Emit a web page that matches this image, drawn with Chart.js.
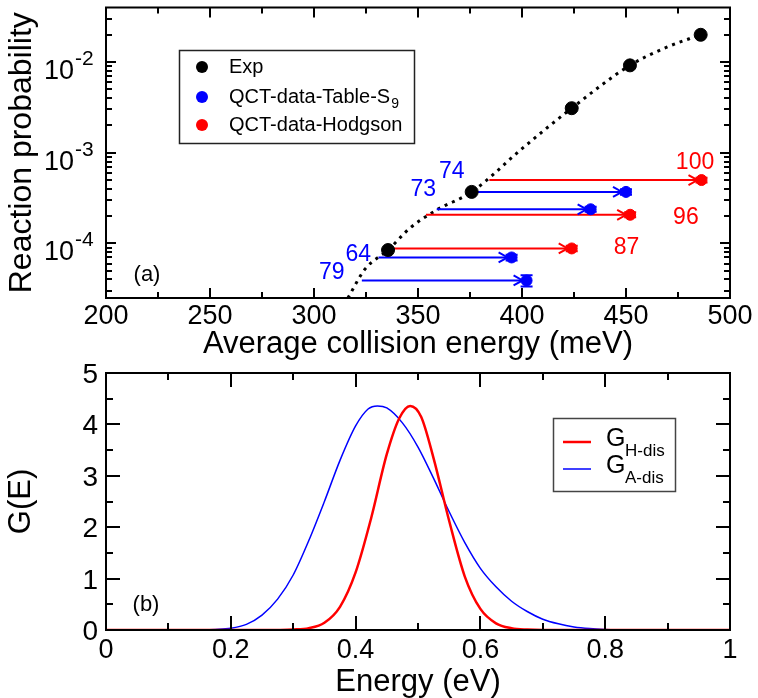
<!DOCTYPE html>
<html>
<head>
<meta charset="utf-8">
<script src="https://cdn.jsdelivr.net/npm/chart.js@4.4.0/dist/chart.umd.min.js"></script>
<style>
  body { margin: 0; background: #fff; }
  canvas { position: absolute; left: 0; }
  #chartA { top: 0; }
  #chartB { top: 362px; }
</style>
</head>
<body>
<canvas id="chartA" width="758" height="362"></canvas>
<canvas id="chartB" width="758" height="336"></canvas>
<script>
const FONT = '"Liberation Sans", Arial, Helvetica, sans-serif';

// ---- panel (a): reaction probability ----
const expEnergy = [335.6, 375.8, 423.9, 451.9, 485.9];
const expProb = [8.45e-5, 3.7e-4, 3.1e-3, 9.2e-3, 2.0e-2];

// dotted fit through the experiment
const fitEnergy = [316.3, 324.5, 335.6, 346.2, 359, 375.8, 400.6, 423.9, 451.9, 469.6, 485.9];
const fitProb = [2.5e-5, 5.2e-5, 8.45e-5, 1.48e-4, 2.34e-4, 3.7e-4, 1.14e-3, 3.1e-3, 9.2e-3, 1.46e-2, 2.0e-2];

// QCT data Table S9 (blue), arrows start at s9From
const s9Energy = [450, 433, 395, 402.2];
const s9Prob = [3.7e-4, 2.38e-4, 7.0e-5, 3.9e-5];
const s9Err = [0.25e-4, 0.15e-4, 0.5e-5, 0.55e-5];
const s9From = [375.8, 359, 331, 323];
const s9Labels = ['74', '73', '64', '79'];
const s9LabelX = [366.2, 352.5, 321.3, 308.5];
const s9LabelY = [6.11e-4, 3.94e-4, 7.59e-5, 4.81e-5];

// QCT data Hodgson (red)
const hodEnergy = [486.3, 452, 423.9];
const hodProb = [5.0e-4, 2.07e-4, 8.8e-5];
const hodErr = [0.3e-4, 0.13e-4, 0.6e-5];
const hodFrom = [384.3, 353.8, 335.6];
const hodLabels = ['100', '96', '87'];
const hodLabelX = [483.2, 478.8, 450.3];
const hodLabelY = [7.85e-4, 1.9e-4, 8.98e-5];

const aXMajor = [200, 250, 300, 350, 400, 450, 500];
const aXMinor = [225, 275, 325, 375, 425, 475];
const aYMajor = [1e-4, 1e-3, 1e-2];
const aYMinor = [3e-5, 4e-5, 5e-5, 6e-5, 7e-5, 8e-5, 9e-5,
                 2e-4, 3e-4, 4e-4, 5e-4, 6e-4, 7e-4, 8e-4, 9e-4,
                 2e-3, 3e-3, 4e-3, 5e-3, 6e-3, 7e-3, 8e-3, 9e-3,
                 2e-2, 3e-2];
const aYLabelExp = ['-4', '-3', '-2'];

// ---- panel (b): G(E) ----
const hEnergy = [0, 0.25, 0.3, 0.325, 0.35, 0.375, 0.4, 0.425, 0.45, 0.47, 0.4875, 0.505,
                 0.525, 0.55, 0.575, 0.6, 0.625, 0.65, 0.675, 0.7, 1.0];
const hValues = [0, 0, 0.01, 0.035, 0.14, 0.45, 1.12, 2.18, 3.42, 4.12, 4.36, 4.15,
                 3.34, 2.12, 1.04, 0.41, 0.13, 0.035, 0.008, 0, 0];
const aEnergy = [0, 0.125, 0.15, 0.175, 0.2, 0.225, 0.25, 0.275, 0.3, 0.325, 0.35, 0.375, 0.4,
                 0.42, 0.435, 0.45, 0.475, 0.5, 0.525, 0.55, 0.575, 0.6, 0.625, 0.65, 0.675,
                 0.7, 0.725, 0.75, 0.775, 0.8, 0.825, 0.85, 1.0];
const aValues = [0, 0, 0.003, 0.012, 0.035, 0.11, 0.29, 0.6, 1.07, 1.74, 2.5, 3.3, 3.97,
                 4.3, 4.36, 4.32, 4.03, 3.56, 2.95, 2.3, 1.7, 1.2, 0.84, 0.56, 0.36,
                 0.21, 0.12, 0.06, 0.027, 0.01, 0.003, 0, 0];

const bXMajor = [0, 0.2, 0.4, 0.6, 0.8, 1];
const bXMinor = [0.1, 0.3, 0.5, 0.7, 0.9];
const bYMajor = [0, 1, 2, 3, 4, 5];
const bYMinor = [0.5, 1.5, 2.5, 3.5, 4.5];

const BLUE = '#0000ff';
const RED = '#ff0000';

function pts(xs, ys) {
  return xs.map((x, i) => ({ x: x, y: ys[i] }));
}

// frame with inward ticks on all four sides
function framePlugin(ticks) {
  return {
    id: 'frame',
    afterDraw(chart) {
      const { ctx, chartArea: a, scales: { x, y } } = chart;
      ctx.save();
      ctx.strokeStyle = '#000';
      ctx.lineWidth = 2;
      ctx.beginPath();
      const vx = (vals, len) => vals.forEach(v => {
        const px = Math.round(x.getPixelForValue(v));
        ctx.moveTo(px, a.bottom); ctx.lineTo(px, a.bottom - len);
        ctx.moveTo(px, a.top); ctx.lineTo(px, a.top + len);
      });
      const vy = (vals, len) => vals.forEach(v => {
        const py = Math.round(y.getPixelForValue(v));
        ctx.moveTo(a.left, py); ctx.lineTo(a.left + len, py);
        ctx.moveTo(a.right, py); ctx.lineTo(a.right - len, py);
      });
      vx(ticks.xMajor, ticks.major);
      vx(ticks.xMinor, ticks.minor);
      vy(ticks.yMajor, ticks.major);
      vy(ticks.yMinor, ticks.minor);
      ctx.stroke();
      ctx.strokeRect(a.left, a.top, a.right - a.left, a.bottom - a.top);
      ctx.restore();
    }
  };
}

const extrasA = {
  id: 'extrasA',
  afterDatasetsDraw(chart) {
    const { ctx, chartArea: a, scales: { x, y } } = chart;
    ctx.save();
    // arrow heads and error bars
    const heads = (xs, ys, errs, color) => {
      ctx.strokeStyle = color;
      ctx.lineWidth = 2;
      xs.forEach((v, i) => {
        const px = x.getPixelForValue(v);
        const py = y.getPixelForValue(ys[i]);
        const tip = px - 4;
        ctx.beginPath();
        ctx.moveTo(tip - 9, py - 5); ctx.lineTo(tip, py); ctx.lineTo(tip - 9, py + 5);
        ctx.stroke();
        const top = y.getPixelForValue(ys[i] + errs[i]);
        const bot = y.getPixelForValue(ys[i] - errs[i]);
        ctx.beginPath();
        ctx.moveTo(px, top); ctx.lineTo(px, bot);
        ctx.moveTo(px - 6, top); ctx.lineTo(px + 6, top);
        ctx.moveTo(px - 6, bot); ctx.lineTo(px + 6, bot);
        ctx.stroke();
      });
    };
    heads(s9Energy, s9Prob, s9Err, BLUE);
    heads(hodEnergy, hodProb, hodErr, RED);

    // number labels
    ctx.font = '23px ' + FONT;
    ctx.textAlign = 'center';
    ctx.textBaseline = 'middle';
    ctx.fillStyle = BLUE;
    s9Labels.forEach((t, i) => ctx.fillText(t, x.getPixelForValue(s9LabelX[i]), y.getPixelForValue(s9LabelY[i])));
    ctx.fillStyle = RED;
    hodLabels.forEach((t, i) => ctx.fillText(t, x.getPixelForValue(hodLabelX[i]), y.getPixelForValue(hodLabelY[i])));

    // y tick labels 10^n
    ctx.fillStyle = '#000';
    ctx.textBaseline = 'alphabetic';
    aYMajor.forEach((v, i) => {
      const py = y.getPixelForValue(v);
      ctx.font = '27px ' + FONT;
      ctx.textAlign = 'right';
      ctx.fillText('10', 74, py + 17);
      ctx.font = '21px ' + FONT;
      ctx.textAlign = 'left';
      ctx.fillText(aYLabelExp[i], 75, py + 3);
    });

    // (a)
    ctx.font = '22px ' + FONT;
    ctx.textAlign = 'center';
    ctx.textBaseline = 'middle';
    ctx.fillText('(a)', 147, 275);

    // legend
    ctx.strokeStyle = '#222';
    ctx.lineWidth = 1.5;
    ctx.strokeRect(179.5, 50.5, 235, 93);
    const items = [['#000', 'Exp', ''], [BLUE, 'QCT-data-Table-S', '9'], [RED, 'QCT-data-Hodgson', '']];
    const rows = [67, 97, 125];
    items.forEach((it, i) => {
      ctx.fillStyle = it[0];
      ctx.beginPath();
      ctx.arc(202, rows[i], 6, 0, Math.PI * 2);
      ctx.fill();
      ctx.fillStyle = '#000';
      ctx.font = '20px ' + FONT;
      ctx.textAlign = 'left';
      ctx.textBaseline = 'middle';
      ctx.fillText(it[1], 229, rows[i]);
      if (it[2]) {
        const w = ctx.measureText(it[1]).width;
        ctx.font = '14px ' + FONT;
        ctx.fillText(it[2], 229 + w + 1, rows[i] + 7);
      }
    });
    ctx.restore();
  }
};

const extrasB = {
  id: 'extrasB',
  afterDatasetsDraw(chart) {
    const { ctx, scales: { y } } = chart;
    ctx.save();
    ctx.fillStyle = '#000';
    ctx.font = '28px ' + FONT;
    ctx.textAlign = 'right';
    ctx.textBaseline = 'alphabetic';
    bYMajor.forEach(v => ctx.fillText(String(v), 98, y.getPixelForValue(v) + 10));

    ctx.font = '22px ' + FONT;
    ctx.textAlign = 'center';
    ctx.textBaseline = 'middle';
    ctx.fillText('(b)', 146, 243);

    // legend
    ctx.strokeStyle = '#444';
    ctx.lineWidth = 1.5;
    ctx.strokeRect(553.5, 56.5, 122, 73);
    const items = [[RED, 2.5, 'H-dis', 80], [BLUE, 1.5, 'A-dis', 107]];
    items.forEach(it => {
      ctx.strokeStyle = it[0];
      ctx.lineWidth = it[1];
      ctx.beginPath();
      ctx.moveTo(563, it[3]); ctx.lineTo(591, it[3]);
      ctx.stroke();
      ctx.fillStyle = '#000';
      ctx.textAlign = 'left';
      ctx.textBaseline = 'alphabetic';
      ctx.font = '25px ' + FONT;
      ctx.fillText('G', 606, it[3] + 4);
      ctx.font = '17px ' + FONT;
      ctx.fillText(it[2], 625, it[3] + 14);
    });
    ctx.restore();
  }
};

Chart.defaults.font.family = FONT;
Chart.defaults.color = '#000';

function axisTitle(text, size, pad) {
  return { display: true, text: text, color: '#000', font: { family: FONT, size: size, lineHeight: 1 }, padding: pad };
}

// ---- build chart (a) ----
const arrowSets = [];
s9From.forEach((f, i) => arrowSets.push({
  data: [{ x: f, y: s9Prob[i] }, { x: s9Energy[i] - 2, y: s9Prob[i] }],
  showLine: true, borderColor: BLUE, borderWidth: 2, pointRadius: 0, order: 5
}));
hodFrom.forEach((f, i) => arrowSets.push({
  data: [{ x: f, y: hodProb[i] }, { x: hodEnergy[i] - 2, y: hodProb[i] }],
  showLine: true, borderColor: RED, borderWidth: 2, pointRadius: 0, order: 5
}));

new Chart(document.getElementById('chartA'), {
  type: 'scatter',
  data: {
    datasets: [
      { label: 'Exp', data: pts(expEnergy, expProb), backgroundColor: '#000', borderColor: '#000', pointRadius: 6.5, order: 0 },
      { label: 'QCT-data-Table-S9', data: pts(s9Energy, s9Prob), backgroundColor: BLUE, borderColor: BLUE, pointRadius: 5.5, order: 1 },
      { label: 'QCT-data-Hodgson', data: pts(hodEnergy, hodProb), backgroundColor: RED, borderColor: RED, pointRadius: 5.5, order: 2 },
      ...arrowSets,
      { label: 'fit', data: pts(fitEnergy, fitProb), showLine: true, borderColor: '#000', borderWidth: 3,
        borderDash: [3, 5], pointRadius: 0, cubicInterpolationMode: 'monotone', order: 9 }
    ]
  },
  options: {
    responsive: false,
    animation: false,
    devicePixelRatio: 1,
    layout: { padding: { left: 0, right: 28, top: 6, bottom: 0 } },
    plugins: { legend: { display: false }, tooltip: { enabled: false } },
    scales: {
      x: {
        type: 'linear', min: 200, max: 500,
        ticks: { stepSize: 50, font: { size: 27 }, color: '#000', padding: 2 },
        grid: { display: false, drawTicks: false },
        border: { display: false },
        title: axisTitle('Average collision energy (meV)', 31, { top: 0, bottom: 2 }),
        afterFit(s) { s.height = 362 - 298; }
      },
      y: {
        type: 'logarithmic', min: 2.5e-5, max: 0.04,
        ticks: { display: false },
        grid: { display: false, drawTicks: false },
        border: { display: false },
        title: axisTitle('Reaction probability', 32, { top: 6, bottom: 0 }),
        afterFit(s) { s.width = 106; }
      }
    }
  },
  plugins: [extrasA, framePlugin({ xMajor: aXMajor, xMinor: aXMinor, yMajor: aYMajor, yMinor: aYMinor, major: 10, minor: 6 })]
});

// ---- build chart (b) ----
new Chart(document.getElementById('chartB'), {
  type: 'scatter',
  data: {
    datasets: [
      { label: 'G H-dis', data: pts(hEnergy, hValues), showLine: true, borderColor: RED, borderWidth: 2.5,
        pointRadius: 0, cubicInterpolationMode: 'monotone' },
      { label: 'G A-dis', data: pts(aEnergy, aValues), showLine: true, borderColor: BLUE, borderWidth: 1.5,
        pointRadius: 0, cubicInterpolationMode: 'monotone' }
    ]
  },
  options: {
    responsive: false,
    animation: false,
    devicePixelRatio: 1,
    layout: { padding: { left: 0, right: 28, top: 11, bottom: 0 } },
    plugins: { legend: { display: false }, tooltip: { enabled: false } },
    scales: {
      x: {
        type: 'linear', min: 0, max: 1,
        ticks: { stepSize: 0.2, font: { size: 27 }, color: '#000', padding: 4,
                 callback: v => String(Math.round(v * 10) / 10) },
        grid: { display: false, drawTicks: false },
        border: { display: false },
        title: axisTitle('Energy (eV)', 31, { top: 0, bottom: 0 }),
        afterFit(s) { s.height = 336 - 268; }
      },
      y: {
        type: 'linear', min: 0, max: 5,
        ticks: { display: false },
        grid: { display: false, drawTicks: false },
        border: { display: false },
        title: axisTitle('G(E)', 31, { top: 6, bottom: 0 }),
        afterFit(s) { s.width = 106; }
      }
    }
  },
  plugins: [extrasB, framePlugin({ xMajor: bXMajor, xMinor: bXMinor, yMajor: bYMajor, yMinor: bYMinor, major: 14, minor: 7 })]
});
</script>
</body>
</html>
